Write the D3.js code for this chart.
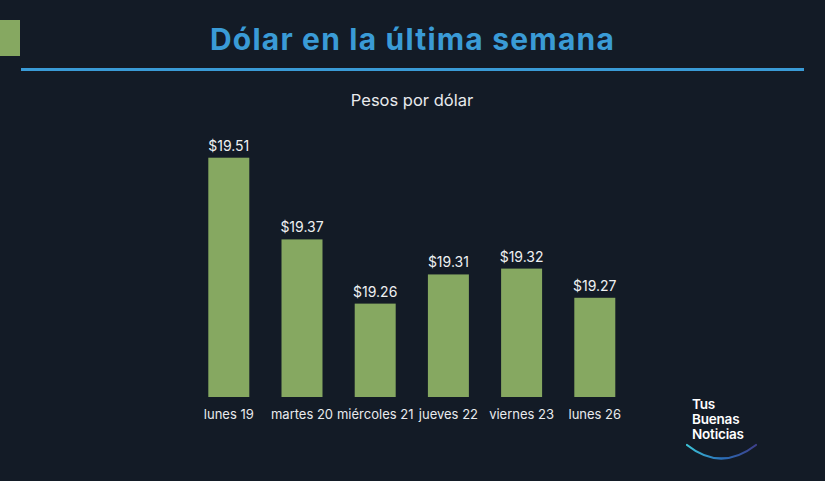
<!DOCTYPE html>
<html><head><meta charset="utf-8">
<script src="https://cdn.jsdelivr.net/npm/d3@7"></script>
<style>html,body{margin:0;padding:0;background:#131b26;}svg{display:block;}</style>
</head><body>
<script>
const categories = ["lunes 19","martes 20","miércoles 21","jueves 22","viernes 23","lunes 26"];
const values = [19.51,19.37,19.26,19.31,19.32,19.27];
const valueLabels = ["$19.51","$19.37","$19.26","$19.31","$19.32","$19.27"];
const title = "Dólar en la última semana";
const subtitle = "Pesos por dólar";
const logoLines = ["Tus","Buenas","Noticias"];

const W = 825, H = 481;
const font = "Inter, 'Open Sans', sans-serif";
const svg = d3.select("body").append("svg").attr("width", W).attr("height", H);
svg.append("rect").attr("width", W).attr("height", H).attr("fill", "#131b26");

// header
svg.append("rect").attr("x", 0).attr("y", 20).attr("width", 20).attr("height", 36).attr("fill", "#86a861");
svg.append("text").attr("x", 412.5).attr("y", 50).attr("text-anchor", "middle")
  .attr("font-family", font).attr("font-weight", 700).attr("font-size", 30)
  .attr("letter-spacing", 1.2)
  .attr("fill", "#3a9bd6").text(title);
svg.append("rect").attr("x", 21).attr("y", 68).attr("width", 783).attr("height", 3).attr("fill", "#3a9bd6");
svg.append("text").attr("x", 412).attr("y", 106).attr("text-anchor", "middle")
  .attr("font-family", font).attr("font-size", 16.5).attr("fill", "#e8eaed").text(subtitle);

// scales
const x = d3.scaleBand().domain(categories).range([192.2, 631.4]).paddingInner(0.44).paddingOuter(0.22);
const y = d3.scaleLinear().domain([19.1, 19.51]).range([397, 157.7]);

const g = svg.append("g");
g.selectAll("rect.bar").data(values).join("rect").attr("class", "bar")
  .attr("x", (d, i) => x(categories[i])).attr("width", x.bandwidth())
  .attr("y", d => y(d)).attr("height", d => y.range()[0] - y(d))
  .attr("fill", "#86a861");
g.selectAll("text.val").data(values).join("text").attr("class", "val")
  .attr("x", (d, i) => x(categories[i]) + x.bandwidth() / 2)
  .attr("y", d => y(d) - 7).attr("text-anchor", "middle")
  .attr("font-family", font).attr("font-size", 14).attr("fill", "#eef0f2")
  .text((d, i) => valueLabels[i]);

const xAxis = d3.axisBottom(x).tickSize(0).tickPadding(0);
const ax = svg.append("g").attr("transform", "translate(0,397)").call(xAxis);
ax.select(".domain").remove();
ax.selectAll("text").attr("dy", null).attr("y", 22)
  .attr("font-family", font).attr("font-size", 13).attr("fill", "#e8eaed");

// logo
const logo = svg.append("g");
logo.selectAll("text").data(logoLines).join("text")
  .attr("x", 692).attr("y", (d, i) => 409 + i * 15)
  .attr("font-family", font).attr("font-weight", 600).attr("font-size", 13.5)
  .attr("letter-spacing", -0.2).attr("fill", "#ffffff").text(d => d);
const grad = svg.append("defs").append("linearGradient").attr("id", "lg")
  .attr("x1", "0%").attr("x2", "100%");
grad.append("stop").attr("offset", "0%").attr("stop-color", "#3cc4d8");
grad.append("stop").attr("offset", "50%").attr("stop-color", "#2a6fb8");
grad.append("stop").attr("offset", "100%").attr("stop-color", "#3d3f8a");
logo.append("path").attr("d", "M687,445 Q721,472 756,445")
  .attr("fill", "none").attr("stroke", "url(#lg)").attr("stroke-width", 2.2).attr("stroke-linecap", "round");
</script>
</body></html>
